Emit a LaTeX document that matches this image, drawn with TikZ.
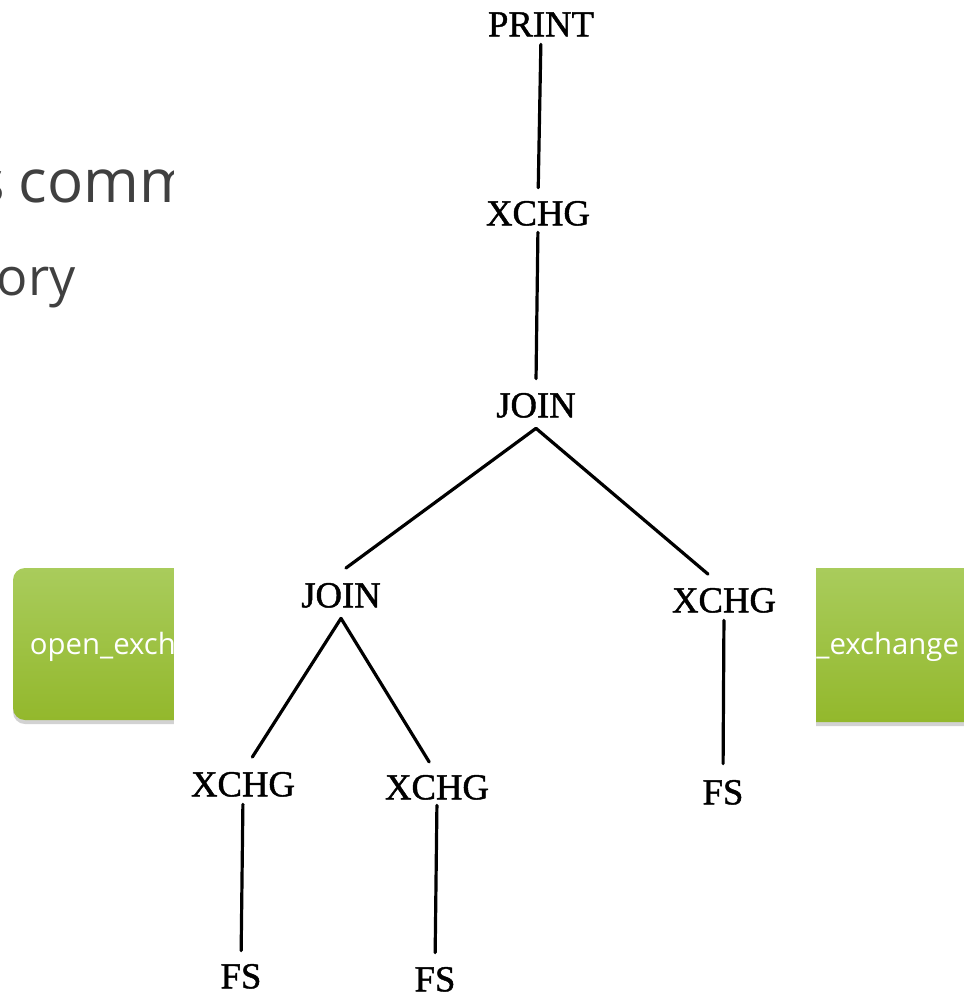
\documentclass[tikz,border=0pt]{standalone}
\usepackage{fontspec}
\setmainfont{Liberation Serif}
\newfontfamily\treefont[FakeBold=1.2]{Liberation Serif}
\newfontfamily\slidefont{Open Sans}
\usetikzlibrary{shadows}
\definecolor{slidegray}{HTML}{404040}
\definecolor{greentop}{HTML}{A9CC5C}
\definecolor{greenbot}{HTML}{93B82C}
\begin{document}
\begin{tikzpicture}[x=0.75pt,y=-0.75pt,
  tnode/.style={font=\treefont\fontsize{27.5}{27.5}\selectfont, inner sep=0pt, outer sep=0pt, text height=18.5pt, text depth=0pt},
  joinnode/.style={tnode, outer ysep=8.25pt},
  tline/.style={line width=2.4pt, line cap=round, line join=miter},
  gbox/.style={rounded corners=9pt, top color=greentop, bottom color=greenbot,
    drop shadow={shadow xshift=0pt, shadow yshift=-3pt, opacity=0.35}},
  slidetext/.style={text=slidegray, inner sep=0pt, outer sep=0pt},
  boxtext/.style={text=white, inner sep=0pt, outer sep=0pt, font=\slidefont\fontsize{22}{22}\selectfont}]
\useasboundingbox (0,0) rectangle (964,993);
\clip (0,0) rectangle (964,993);
\fill[white] (0,0) rectangle (964,993);
% slide background
\path[gbox] (13,568) rectangle (300,720);
\path[gbox] (700,568) rectangle (1100,722);
\node[slidetext, font=\slidefont\fontsize{45}{45}\selectfont, anchor=base west] (title) at (19,202) {\llap{s\hspace{-1pt}\ }comm};
\node[slidetext, font=\slidefont\fontsize{39}{39}\selectfont, anchor=base west] (sub) at (-3,295) {ory};
\node[boxtext, anchor=base west] (lbl1) at (30,654) {open\_exch};
\node[boxtext, anchor=base east] (lbl2) at (959,654) {\_exchange};
% scanned overlay
\fill[white] (174,0) rectangle (815.5,993);
% tree
\node[tnode] (print) at (541,24) {PRINT};
\node[tnode] (x0) at (538,213) {XCHG};
\node[joinnode] (j0) at (536,405) {JOIN};
\node[joinnode] (j1) at (341,595) {JOIN};
\node[tnode] (x3) at (724,600) {XCHG};
\node[tnode] (f3) at (723,792) {FS};
\node[tnode] (x1) at (243,784) {XCHG};
\node[tnode] (x2) at (437,787) {XCHG};
\node[tnode] (f1) at (241,976) {FS};
\node[tnode] (f2) at (435,979) {FS};
\draw[tline, shorten <=6pt, shorten >=9.75pt] (print.south) -- (x0.north);
\draw[tline, shorten <=5.25pt, shorten >=2.25pt] (x0.south) -- (j0.north);
\draw[tline, shorten >=4.6pt] (j0.south) -- (j1.north);
\draw[tline, shorten >=15.7pt] (j0.south) -- (x3.north);
\draw[tline, shorten <=6pt, shorten >=12pt] (x3.south) -- (f3.north);
\draw[tline, shorten >=13pt] (j1.south) -- (x1.north);
\draw[tline, shorten >=11.2pt] (j1.south) -- (x2.north);
\draw[tline, shorten <=6pt, shorten >=9.75pt] (x1.south) -- (f1.north);
\draw[tline, shorten <=4.5pt, shorten >=10.5pt] (x2.south) -- (f2.north);
\end{tikzpicture}
\end{document}
